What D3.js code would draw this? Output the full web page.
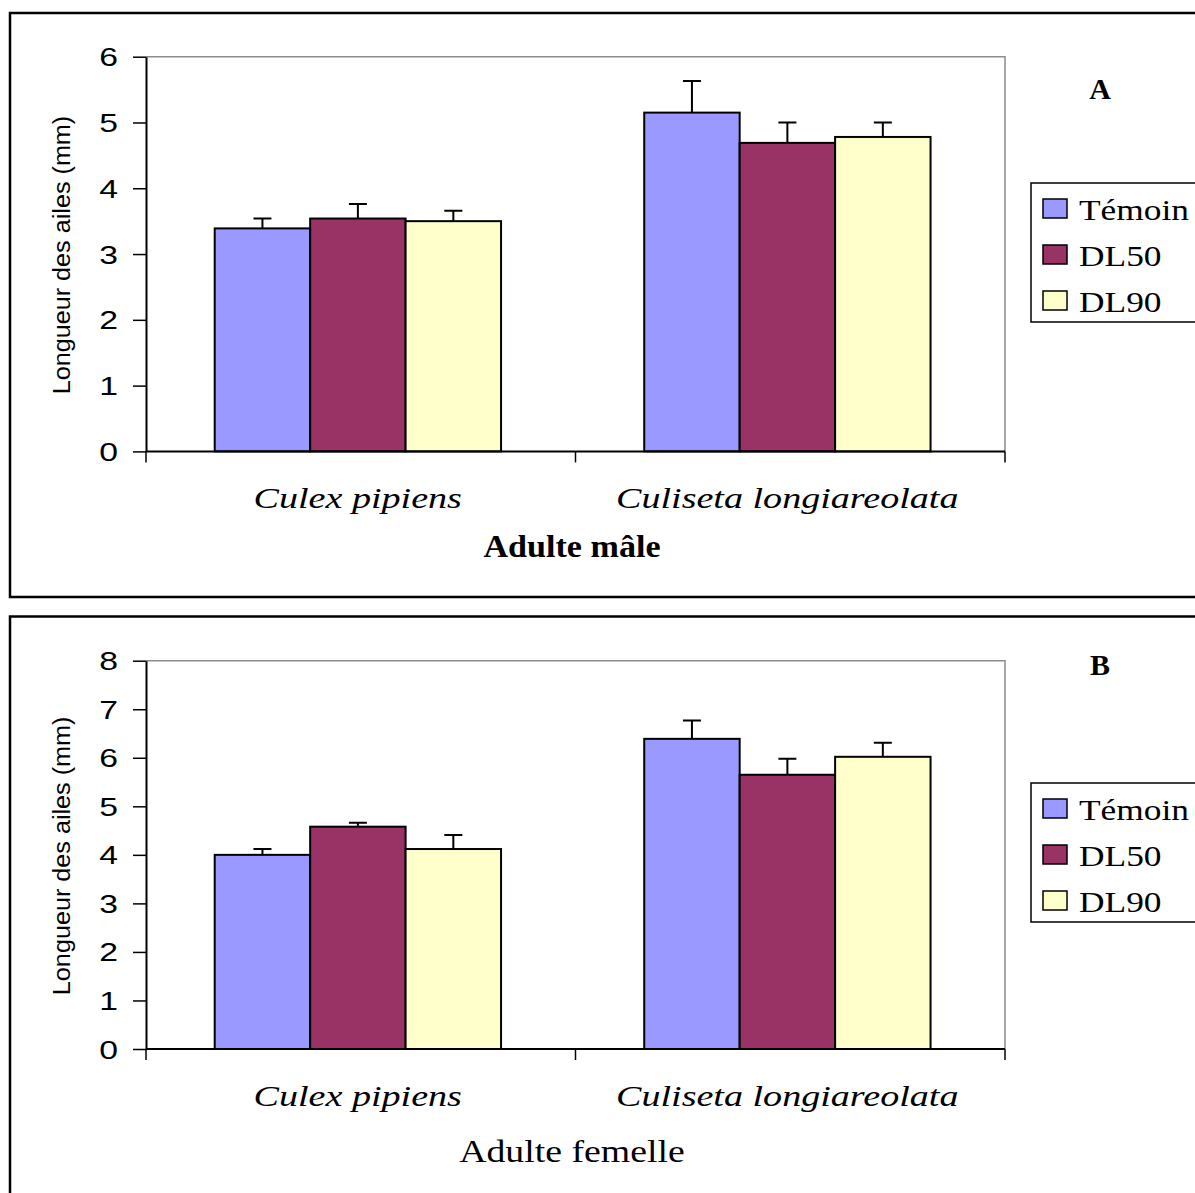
<!DOCTYPE html>
<html>
<head>
<meta charset="utf-8">
<script src="https://cdn.jsdelivr.net/npm/d3@7"></script>
<style>
  body { margin: 0; background: #fff; }
  svg { display: block; }
</style>
</head>
<body>
<svg id="chart" width="1195" height="1193"></svg>
<script>
/* ── Data ─────────────────────────────────────────── */
const categories   = ["Culex pipiens", "Culiseta longiareolata"];
const seriesNames  = ["Témoin", "DL50", "DL90"];
const seriesColors = ["#9999ff", "#993366", "#ffffcc"];

// one row per category, values in series order
const maleMeans    = [[3.39, 3.54, 3.50], [5.15, 4.69, 4.78]];
const maleErrors   = [[0.15, 0.22, 0.16], [0.48, 0.31, 0.22]];
const femaleMeans  = [[4.00, 4.58, 4.12], [6.39, 5.65, 6.02]];
const femaleErrors = [[0.12, 0.08, 0.29], [0.38, 0.33, 0.29]];

const maleTicks   = [0, 1, 2, 3, 4, 5, 6];
const femaleTicks = [0, 1, 2, 3, 4, 5, 6, 7, 8];

/* ── Styles ───────────────────────────────────────── */
const serif = "'Liberation Serif', 'Times New Roman', serif";
const sans  = "'Liberation Sans', Arial, sans-serif";

const svg = d3.select("#chart");
const plotLeft  = 146;
const plotRight = 1005;

// text in the reference is drawn wide; stretch along the baseline
function wideText(g, x, y, str, o) {
    return g.append("text")
        .attr("transform", `translate(${x},${y}) rotate(${o.rotate || 0}) scale(${o.sx || 1},1)`)
        .attr("text-anchor", o.anchor || "middle")
        .style("font-family", o.family || serif)
        .style("font-size", o.size + "px")
        .style("font-style", o.italic ? "italic" : "normal")
        .style("font-weight", o.bold ? "bold" : "normal")
        .attr("fill", "#000")
        .text(str);
}

function drawPanel(p) {
    const g = svg.append("g");

    // outer frame
    g.append("rect")
        .attr("x", 10).attr("y", p.boxTop)
        .attr("width", 1250).attr("height", p.boxHeight)
        .attr("fill", "none").attr("stroke", "#000").attr("stroke-width", 2.5);

    const x = d3.scaleBand().domain(categories).range([plotLeft, plotRight]);
    const xs = d3.scaleBand().domain(seriesNames)
        .range([0, x.bandwidth()])
        .paddingInner(0).paddingOuter(0.75).align(0.48);
    const y = d3.scaleLinear()
        .domain([0, d3.max(p.ticks)])
        .range([p.plotBottom, p.plotTop]);

    // plot area border (top / right, gray)
    g.append("path")
        .attr("d", `M${plotLeft},${y(d3.max(p.ticks))}H${plotRight}V${y(0)}`)
        .attr("fill", "none").attr("stroke", "#8c8c8c").attr("stroke-width", 1.5);

    const rows = [];
    categories.forEach((c, ci) => {
        seriesNames.forEach((s, si) => {
            rows.push({ c, s, si, v: p.means[ci][si], e: p.errors[ci][si] });
        });
    });

    // bars
    g.append("g").selectAll("rect")
        .data(rows).join("rect")
        .attr("x", d => x(d.c) + xs(d.s))
        .attr("y", d => y(d.v))
        .attr("width", xs.bandwidth())
        .attr("height", d => y(0) - y(d.v))
        .attr("fill", d => seriesColors[d.si])
        .attr("stroke", "#000").attr("stroke-width", 2);

    // error bars (upper only)
    const eb = g.append("g").attr("stroke", "#000").attr("stroke-width", 2).attr("fill", "none");
    eb.selectAll("path")
        .data(rows).join("path")
        .attr("d", d => {
            const cx = x(d.c) + xs(d.s) + xs.bandwidth() / 2;
            const top = y(d.v + d.e);
            return `M${cx},${y(d.v)}V${top}M${cx - 9},${top}H${cx + 9}`;
        });

    // y axis
    const yAxis = g.append("g")
        .attr("transform", `translate(${plotLeft},0)`)
        .call(d3.axisLeft(y).tickValues(p.ticks).tickSize(13).tickSizeOuter(0).tickFormat(d3.format("d")));
    yAxis.select(".domain").attr("stroke", "#000").attr("stroke-width", 2);
    yAxis.selectAll(".tick line").attr("stroke", "#000").attr("stroke-width", 1.5);
    yAxis.selectAll(".tick text")
        .attr("x", 0).attr("dy", "0.36em")
        .attr("transform", "translate(-28,0) scale(1.35,1)")
        .style("font-family", sans).style("font-size", "25px").attr("fill", "#000");

    // x axis line and ticks at category boundaries
    const xg = g.append("g");
    xg.append("line")
        .attr("x1", plotLeft).attr("x2", plotRight)
        .attr("y1", y(0)).attr("y2", y(0))
        .attr("stroke", "#000").attr("stroke-width", 2);
    const bounds = categories.map(c => x(c)).concat([x.range()[1]]);
    xg.selectAll("line.tk")
        .data(bounds).join("line").attr("class", "tk")
        .attr("x1", d => d).attr("x2", d => d)
        .attr("y1", y(0)).attr("y2", y(0) + 11)
        .attr("stroke", "#000").attr("stroke-width", 1.5);

    categories.forEach(c => {
        wideText(g, x(c) + x.bandwidth() / 2 - 3, p.catY, c, { size: 30, italic: true, sx: 1.27 });
    });

    // titles
    wideText(g, 572, p.titleY, p.title, { size: 31, bold: p.titleBold, sx: p.titleBold ? 1.1 : 1.22 });
    wideText(g, 70, (p.plotTop + p.plotBottom) / 2 + 1, "Longueur des ailes (mm)",
        { size: 24, family: sans, rotate: -90, sx: 1.05 });
    wideText(g, 1100, p.letterY, p.letter, { size: 30, bold: true });

    // legend
    const lg = g.append("g").attr("transform", `translate(1031,${p.legendTop})`);
    lg.append("rect")
        .attr("width", 250).attr("height", 139)
        .attr("fill", "#fff").attr("stroke", "#000").attr("stroke-width", 1.5);
    seriesNames.forEach((s, i) => {
        const cy = 25.5 + i * 46;
        lg.append("rect")
            .attr("x", 12).attr("y", cy - 9.5)
            .attr("width", 24).attr("height", 19)
            .attr("fill", seriesColors[i])
            .attr("stroke", "#000").attr("stroke-width", 1.5);
        wideText(lg, 48, cy + 11.5, s, { size: 29, anchor: "start", sx: 1.22 });
    });
}

drawPanel({
    boxTop: 13, boxHeight: 584,
    plotTop: 56.7, plotBottom: 451.4,
    means: maleMeans, errors: maleErrors, ticks: maleTicks,
    catY: 508, title: "Adulte mâle", titleBold: true, titleY: 556.7,
    letter: "A", letterY: 99, legendTop: 183
});

drawPanel({
    boxTop: 616.5, boxHeight: 650,
    plotTop: 660.7, plotBottom: 1049,
    means: femaleMeans, errors: femaleErrors, ticks: femaleTicks,
    catY: 1105.7, title: "Adulte femelle", titleBold: false, titleY: 1162.3,
    letter: "B", letterY: 675, legendTop: 783
});
</script>
</body>
</html>
